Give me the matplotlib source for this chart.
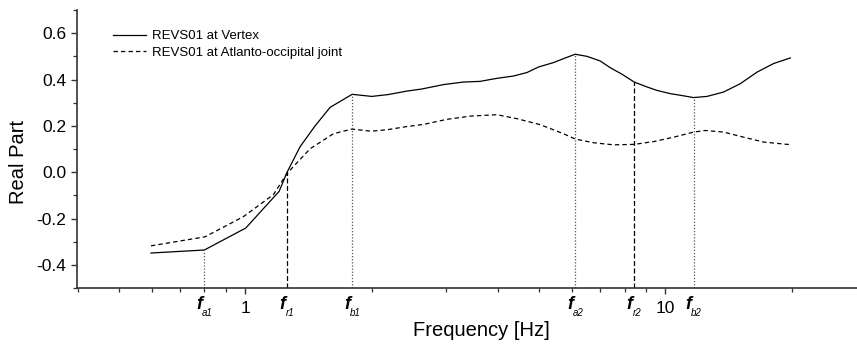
import matplotlib
matplotlib.use('Agg')
import matplotlib.pyplot as plt
from matplotlib.ticker import LogLocator, MultipleLocator, NullFormatter, FixedLocator, FixedFormatter

plt.rcParams['font.family'] = ['Liberation Sans', 'DejaVu Sans']

# Real part at the vertex
freq_vertex = [0.597, 0.800, 1.004, 1.205, 1.259, 1.352, 1.468, 1.594, 1.798,
               2.003, 2.191, 2.427, 2.634, 2.966, 3.310, 3.627, 3.975, 4.353,
               4.685, 4.992, 5.420, 5.726, 6.106, 6.510, 7.002, 7.396, 7.885,
               8.437, 9.046, 9.554, 10.28, 10.86, 11.68, 12.57, 13.77, 15.09,
               16.54, 18.11, 19.85]
real_vertex = [-0.349, -0.336, -0.241, -0.083, 0.0, 0.11, 0.20, 0.28, 0.336,
               0.327, 0.335, 0.350, 0.359, 0.378, 0.389, 0.392, 0.405, 0.415,
               0.430, 0.454, 0.473, 0.490, 0.509, 0.500, 0.480, 0.451, 0.423,
               0.389, 0.368, 0.353, 0.339, 0.332, 0.322, 0.327, 0.346, 0.382,
               0.432, 0.469, 0.493]

# Real part at the atlanto-occipital joint
freq_ao = [0.597, 0.803, 0.991, 1.168, 1.259, 1.428, 1.623, 1.795, 1.995,
           2.175, 2.427, 2.657, 3.021, 3.434, 3.975, 4.435, 5.040, 5.726,
           6.106, 6.752, 7.532, 8.437, 9.378, 10.47, 11.68, 12.45, 13.77,
           15.37, 17.14, 19.49, 19.85]
real_ao = [-0.318, -0.279, -0.192, -0.097, -0.005, 0.101, 0.166, 0.186, 0.177,
           0.183, 0.197, 0.206, 0.228, 0.242, 0.248, 0.231, 0.205, 0.166,
           0.143, 0.127, 0.118, 0.120, 0.132, 0.151, 0.173, 0.180, 0.173,
           0.151, 0.130, 0.120, 0.120]

# characteristic frequencies and where their drop lines start
mark_names = ['a1', 'r1', 'b1', 'a2', 'r2', 'b2']
mark_freqs = [0.80, 1.259, 1.798, 6.106, 8.437, 11.68]
mark_tops = [-0.336, 0.0, 0.336, 0.509, 0.389, 0.322]
mark_styles = [':', '--', ':', ':', '--', ':']

fig = plt.figure(figsize=(8.57, 3.46), dpi=100)
ax = fig.add_axes([0.0898, 0.1676, 0.9102, 0.8035])

ax.plot(freq_vertex, real_vertex, color='black', lw=0.9, label='REVS01 at Vertex')
ax.plot(freq_ao, real_ao, color='black', lw=0.9, ls=(0, (3.5, 2.5)),
        label='REVS01 at Atlanto-occipital joint')

ymin = -0.5
for f, top, st in zip(mark_freqs, mark_tops, mark_styles):
    if st == '--':
        ax.plot([f, f], [ymin, top], color='black', lw=0.9, ls=(0, (4, 2)))
    else:
        ax.plot([f, f], [ymin, top], color='#555555', lw=0.9, ls=(0, (1, 1.5)))

ax.set_xscale('log')
ax.set_xlim(0.398, 28.6)
ax.set_ylim(-0.5, 0.7)

ax.xaxis.set_major_locator(FixedLocator([1, 10]))
ax.xaxis.set_major_formatter(FixedFormatter(['1', '10']))
ax.xaxis.set_minor_locator(LogLocator(base=10, subs=range(2, 10)))
ax.xaxis.set_minor_formatter(NullFormatter())
ax.yaxis.set_major_locator(FixedLocator([-0.4, -0.2, 0.0, 0.2, 0.4, 0.6]))
ax.yaxis.set_major_formatter(FixedFormatter(['-0.4', '-0.2', '0.0', '0.2', '0.4', '0.6']))
ax.yaxis.set_minor_locator(MultipleLocator(0.1))

ax.tick_params(which='major', direction='out', length=4.5, width=1.0,
               labelsize=12.5, color='#333333')
ax.tick_params(which='minor', direction='out', length=3, width=0.9, color='#333333')
ax.tick_params(axis='x', pad=5)
ax.tick_params(axis='y', pad=3)

for side in ['top', 'right']:
    ax.spines[side].set_visible(False)
for side in ['left', 'bottom']:
    ax.spines[side].set_linewidth(1.2)
    ax.spines[side].set_color('#333333')

# f labels under the axis
for name, f in zip(mark_names, mark_freqs):
    ax.annotate('f', xy=(f, 0), xycoords=('data', 'axes fraction'),
                xytext=(-5, -16), textcoords='offset pixels',
                ha='center', va='center', fontsize=13, fontweight='bold',
                fontstyle='italic')
    ax.annotate(name, xy=(f, 0), xycoords=('data', 'axes fraction'),
                xytext=(3, -25), textcoords='offset pixels',
                ha='center', va='center', fontsize=7, fontstyle='italic')

ax.set_ylabel('Real Part', fontsize=14.5)
ax.yaxis.set_label_coords(-0.063, 0.453)
ax.set_xlabel('Frequency [Hz]', fontsize=14.5)
ax.xaxis.set_label_coords(0.519, -0.118)

ax.legend(loc='upper left', bbox_to_anchor=(0.046, 0.928), frameon=False,
          fontsize=9.5, handlelength=2.5, handletextpad=0.45,
          borderpad=0, borderaxespad=0, labelspacing=0.35)

fig.savefig('out.png', dpi=100)
